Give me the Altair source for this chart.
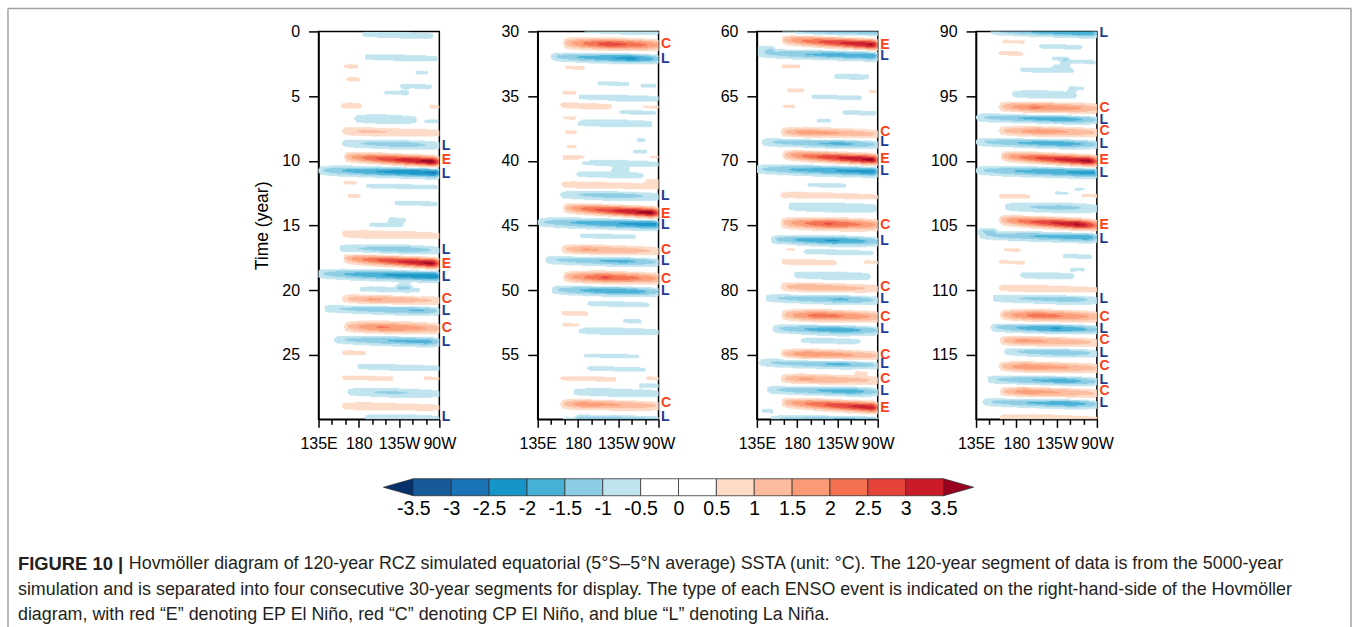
import numpy as np
import pandas as pd
import altair as alt

# ---------------------------------------------------------------------------
# Equatorial SSTA anomaly bands of the Hovmoller field.
# Each tuple: (year, peak SSTA in degC, west edge lon, east edge lon,
#              lon of the peak, half-thickness in years)
# Longitudes in degrees east: 180 = dateline, 225 = 135W, 270 = 90W.
# ---------------------------------------------------------------------------
BANDS_0_30 = [
    (0.30, -0.8, 186, 262, 232, 0.25), (2.05, -0.8, 188, 267, 230, 0.25),
    (2.70, 0.7, 165, 178, 170, 0.20), (3.20, -0.6, 245, 256, 250, 0.20),
    (3.70, 0.7, 168, 180, 173, 0.20), (4.25, -0.7, 228, 260, 245, 0.22),
    (4.75, -0.65, 210, 234, 222, 0.20), (5.75, 0.75, 162, 182, 170, 0.25),
    (5.85, 0.6, 260, 270, 270, 0.20), (6.80, -0.95, 177, 243, 205, 0.35),
    (6.95, -0.65, 255, 268, 262, 0.20), (7.75, 1.1, 163, 270, 185, 0.30),
    (8.75, -1.3, 163, 270, 225, 0.30), (10.10, 3.8, 165, 270, 262, 0.30),
    (10.95, -2.6, 136, 270, 265, 0.30), (11.70, 0.65, 165, 176, 170, 0.20),
    (12.00, -0.7, 190, 267, 230, 0.22), (12.70, 0.6, 169, 180, 174, 0.20),
    (13.30, -0.7, 221, 267, 245, 0.22), (14.55, -0.6, 215, 232, 224, 0.20),
    (15.00, -0.7, 193, 228, 210, 0.22), (15.70, 0.95, 163, 270, 190, 0.30),
    (16.90, -1.4, 160, 270, 230, 0.30), (17.95, 3.7, 164, 270, 262, 0.30),
    (18.95, -2.5, 135, 270, 266, 0.30), (19.75, -0.6, 225, 236, 230, 0.20),
    (20.00, -0.8, 182, 247, 215, 0.25), (20.75, 1.6, 163, 270, 193, 0.30),
    (21.60, -1.6, 143, 270, 250, 0.28), (22.90, 2.1, 165, 270, 205, 0.33),
    (24.00, -1.8, 154, 270, 255, 0.28), (24.85, 0.7, 163, 186, 172, 0.22),
    (26.00, -0.8, 180, 270, 230, 0.25), (26.80, 0.7, 163, 217, 185, 0.22),
    (26.85, 0.6, 254, 270, 268, 0.20), (27.95, -1.1, 169, 270, 215, 0.30),
    (29.00, 1.0, 163, 270, 190, 0.28), (29.95, -1.0, 188, 270, 240, 0.30),
]

BANDS_30_60 = [
    (31.00, 2.8, 165, 270, 215, 0.33), (32.10, -2.2, 151, 270, 240, 0.28),
    (32.80, 0.6, 167, 186, 175, 0.20), (34.05, -0.65, 203, 236, 220, 0.20),
    (34.20, -0.6, 251, 266, 258, 0.20), (34.75, 0.6, 164, 177, 170, 0.20),
    (35.15, -0.8, 182, 270, 225, 0.25), (35.75, 0.8, 162, 217, 185, 0.25),
    (35.85, 0.65, 254, 270, 265, 0.20), (36.25, -0.7, 228, 266, 245, 0.20),
    (36.70, 0.6, 165, 180, 172, 0.20), (37.10, -0.9, 180, 262, 215, 0.28),
    (37.80, 0.6, 167, 177, 172, 0.20), (38.40, -0.6, 247, 254, 250, 0.18),
    (38.90, 0.6, 169, 177, 173, 0.18), (39.30, -0.6, 243, 256, 250, 0.18),
    (39.75, 0.7, 164, 190, 175, 0.22), (39.75, 0.6, 262, 270, 268, 0.18),
    (40.20, -0.8, 184, 270, 230, 0.25), (40.70, -0.6, 221, 234, 228, 0.18),
    (41.10, -0.85, 180, 252, 215, 0.25), (41.60, 0.6, 258, 270, 268, 0.18),
    (41.90, 1.0, 163, 270, 185, 0.28), (42.70, -1.3, 162, 270, 220, 0.32),
    (44.05, 3.8, 165, 270, 262, 0.30), (44.95, -2.3, 136, 270, 266, 0.30),
    (45.85, -0.7, 184, 243, 210, 0.22), (46.90, 1.6, 163, 270, 188, 0.30),
    (47.80, -1.7, 145, 270, 230, 0.28), (49.05, 2.6, 165, 270, 210, 0.33),
    (50.10, -2.0, 152, 270, 225, 0.28), (51.10, -0.8, 192, 258, 225, 0.22),
    (51.80, 0.65, 163, 190, 172, 0.22), (52.40, -0.65, 232, 250, 240, 0.20),
    (52.70, 0.6, 164, 183, 172, 0.20), (53.20, -0.9, 182, 270, 220, 0.27),
    (55.10, -0.7, 188, 247, 215, 0.20), (56.10, -0.7, 192, 254, 220, 0.20),
    (56.85, 0.7, 162, 221, 185, 0.22), (56.85, 0.6, 258, 270, 268, 0.20),
    (57.35, -0.6, 250, 270, 262, 0.18), (57.95, -1.0, 176, 270, 215, 0.30),
    (58.85, 1.8, 162, 270, 185, 0.30), (59.95, -0.8, 180, 270, 230, 0.25),
]

BANDS_60_90 = [
    (60.10, -0.7, 164, 269, 230, 0.20), (61.05, 3.6, 164, 270, 264, 0.30),
    (61.30, -0.6, 139, 152, 145, 0.20), (61.90, -2.0, 137, 270, 264, 0.28),
    (62.70, 0.6, 164, 182, 172, 0.20), (63.50, -0.8, 223, 259, 240, 0.22),
    (64.55, 0.6, 170, 186, 178, 0.20), (64.65, 0.6, 262, 268, 266, 0.18),
    (65.10, -0.7, 197, 251, 225, 0.20), (65.80, 0.6, 165, 176, 170, 0.18),
    (66.30, -0.7, 232, 267, 250, 0.20), (66.90, -0.6, 203, 216, 210, 0.18),
    (67.85, 1.8, 163, 270, 190, 0.30), (68.70, -1.7, 142, 270, 230, 0.28),
    (69.95, 3.7, 165, 270, 264, 0.30), (70.85, -2.3, 135, 270, 265, 0.30),
    (71.90, -0.7, 193, 233, 212, 0.20), (72.70, 0.9, 163, 270, 185, 0.27),
    (73.60, -0.9, 172, 268, 225, 0.40), (74.90, 2.6, 163, 270, 215, 0.33),
    (76.20, -2.1, 152, 270, 220, 0.28), (76.85, 0.6, 168, 176, 172, 0.18),
    (77.10, -0.75, 189, 264, 225, 0.22), (77.85, 0.8, 164, 223, 185, 0.25),
    (77.85, 0.6, 256, 270, 266, 0.20), (78.90, -1.0, 178, 261, 215, 0.30),
    (79.80, 1.5, 163, 270, 190, 0.30), (80.75, -1.6, 146, 270, 230, 0.28),
    (82.00, 2.3, 164, 270, 205, 0.33), (83.10, -1.9, 154, 270, 225, 0.28),
    (83.95, -0.8, 186, 249, 215, 0.22), (85.00, 2.0, 163, 270, 192, 0.30),
    (85.75, -1.7, 139, 270, 230, 0.27), (86.35, 0.6, 246, 257, 252, 0.18),
    (86.90, 1.6, 163, 270, 186, 0.30), (87.85, -1.8, 148, 270, 240, 0.28),
    (89.10, 3.4, 164, 270, 264, 0.30), (89.35, -0.6, 142, 152, 147, 0.20),
]

BANDS_90_120 = [
    (90.15, -2.0, 152, 270, 262, 0.25), (90.80, 0.6, 166, 188, 176, 0.20),
    (91.20, -0.7, 207, 252, 235, 0.20), (91.70, 0.65, 162, 186, 172, 0.20),
    (92.10, -0.6, 221, 236, 228, 0.18), (92.35, -0.65, 232, 267, 250, 0.20),
    (92.70, -0.6, 224, 237, 230, 0.18), (93.00, -0.8, 186, 243, 215, 0.22),
    (94.40, -0.6, 240, 254, 247, 0.18), (94.90, -1.0, 177, 246, 210, 0.30),
    (95.90, 2.1, 162, 270, 200, 0.32), (96.80, -1.9, 136, 270, 230, 0.27),
    (97.75, 1.8, 162, 270, 205, 0.30), (98.70, -1.9, 136, 270, 230, 0.27),
    (100.05, 3.7, 164, 270, 262, 0.30), (100.95, -2.2, 136, 270, 266, 0.30),
    (102.20, -0.6, 247, 255, 251, 0.15), (102.50, -0.6, 225, 237, 230, 0.18),
    (102.75, 0.7, 162, 194, 175, 0.22), (102.70, 0.6, 254, 270, 266, 0.20),
    (103.65, -1.2, 169, 270, 230, 0.33), (104.95, 3.6, 162, 270, 250, 0.30),
    (105.40, -0.7, 140, 155, 148, 0.18), (105.95, -1.9, 140, 270, 260, 0.28),
    (106.90, 0.6, 168, 183, 175, 0.20), (107.40, -0.7, 233, 263, 248, 0.20),
    (107.85, 0.6, 162, 188, 174, 0.20), (108.40, -0.6, 242, 255, 248, 0.18),
    (108.90, -0.9, 186, 243, 215, 0.25), (109.90, 1.0, 162, 270, 190, 0.28),
    (110.75, -1.3, 155, 270, 240, 0.30), (112.00, 2.3, 163, 270, 205, 0.33),
    (113.00, -2.1, 153, 270, 225, 0.28), (113.95, 1.7, 163, 270, 185, 0.30),
    (114.85, -1.5, 168, 270, 230, 0.27), (115.95, 1.9, 162, 270, 190, 0.30),
    (117.05, -1.8, 149, 270, 235, 0.27), (117.90, 1.8, 163, 270, 190, 0.30),
    (118.80, -1.9, 144, 270, 240, 0.27), (119.95, 1.0, 163, 270, 210, 0.28),
]

# ENSO event classification marked on the right-hand side of each panel
EVENT_YEAR = [
    8.88, 9.97, 11.0, 16.87, 17.95, 19.0, 20.73, 21.66, 22.92, 24.03, 29.8,
    30.98, 32.1, 42.7, 44.1, 45.0, 46.87, 47.77, 49.13, 50.1, 58.7, 59.85,
    61.03, 61.88, 67.8, 68.58, 69.9, 70.82, 74.99, 76.22, 79.75, 80.68,
    82.1, 83.05, 85.06, 85.75, 86.9, 87.8, 89.1,
    90.13, 95.92, 96.82, 97.73, 98.68, 99.97, 100.95, 105.0, 106.04, 110.68,
    112.07, 113.0, 113.87, 114.85, 115.88, 116.96, 117.81, 118.71,
]
EVENT_TYPE = [
    "L", "E", "L", "L", "E", "L", "C", "L", "C", "L", "L",
    "C", "L", "L", "E", "L", "C", "L", "C", "L", "C", "L",
    "E", "L", "C", "L", "E", "L", "C", "L", "C", "L",
    "C", "L", "C", "L", "C", "L", "E",
    "L", "C", "L", "C", "L", "E", "L", "E", "L", "L",
    "C", "L", "C", "L", "C", "L", "C", "L",
]

SEGMENT_STARTS = [0, 30, 60, 90]
SEGMENT_BANDS = [BANDS_0_30, BANDS_30_60, BANDS_60_90, BANDS_90_120]

LON_TICKS = [135, 180, 225, 270]
LON_LABELS = ["135E", "180", "135W", "90W"]
LON_MINOR = [150, 165, 195, 210, 240, 255]

# Contour levels and fill colours (two extension colours at the ends)
CB_LEVELS = [-3.5, -3, -2.5, -2, -1.5, -1, -0.5, 0, 0.5, 1, 1.5, 2, 2.5, 3, 3.5]
CB_COLORS = [
    "#08306b", "#175a9a", "#1a73b5", "#1695c9", "#46b1d6", "#8bcde4",
    "#c0e4ee", "#ffffff", "#ffffff", "#fddbc7", "#fcbb9c", "#fb9b76",
    "#f4704f", "#e6433b", "#cb1a28", "#99001f",
]

CAPTION_BOLD = "FIGURE 10 |"
CAPTION_LINES = [
    "Hovmöller diagram of 120-year RCZ simulated equatorial (5°S–5°N average) SSTA (unit: °C). "
    "The 120-year segment of data is from the 5000-year",
    "simulation and is separated into four consecutive 30-year segments for display. "
    "The type of each ENSO event is indicated on the right-hand-side of the Hovmöller",
    "diagram, with red “E” denoting EP El Niño, red “C” denoting CP El Niño, and blue “L” denoting La Niña.",
]

# ---------------------------------------------------------------------------
# Layout (pixels)
# ---------------------------------------------------------------------------
PANEL_W = 121
PANEL_H = 388.5
PANEL_GAP = 98.5
CB_W = 660
CB_H = 17
ORIGIN_X, ORIGIN_Y = 318, 30          # top-left of the first panel
CB_X0, CB_Y0 = 318, 478               # top-left of the colour bar view
PAGE_W, PAGE_H = 1356, 627

FONT = "Liberation Sans"
RED_LABEL = "#fa4119"
BLUE_LABEL = "#1b3b95"

# ---------------------------------------------------------------------------
# Gridded field
# ---------------------------------------------------------------------------
LON_EDGES = np.linspace(135.0, 270.0, 91)
LON_MID = 0.5 * (LON_EDGES[:-1] + LON_EDGES[1:])
N_ROWS = 500
WIDTH_FACTOR = 1.3        # Gaussian width relative to the listed half-thickness
CORE_SHAPE = 0.5          # < 1 keeps the core of each band broad


def level_mid(i):
    if i == 0:
        return CB_LEVELS[0] - 0.25
    if i == len(CB_LEVELS):
        return CB_LEVELS[-1] + 0.25
    return 0.5 * (CB_LEVELS[i - 1] + CB_LEVELS[i])


def zonal_profile(peak, west, east, at):
    """Amplitude along longitude: strongest at `at`, fading to the band ends."""
    edge_w = 0.62
    edge_e = max(0.62, 0.45 * peak) if east >= 269 else 0.62
    amp = np.zeros_like(LON_MID)
    left = (LON_MID >= west) & (LON_MID <= at)
    if at > west:
        f = (LON_MID[left] - west) / (at - west)
        amp[left] = edge_w + (peak - edge_w) * f ** CORE_SHAPE
    else:
        amp[left] = peak
    right = (LON_MID > at) & (LON_MID <= east)
    if east > at:
        f = (east - LON_MID[right]) / (east - at)
        amp[right] = edge_e + (peak - edge_e) * f ** CORE_SHAPE
    tail_w = (LON_MID < west) & (LON_MID > west - 5)
    amp[tail_w] = edge_w * (1 - (west - LON_MID[tail_w]) / 5)
    tail_e = (LON_MID > east) & (LON_MID < east + 5)
    amp[tail_e] = edge_e * (1 - (LON_MID[tail_e] - east) / 5)
    return amp


ALL_BANDS = [b for seg in SEGMENT_BANDS for b in seg]


def segment_cells(t_start):
    t_edges = np.linspace(t_start, t_start + 30, N_ROWS + 1)
    t_mid = 0.5 * (t_edges[:-1] + t_edges[1:])
    field = np.zeros((N_ROWS, LON_MID.size))
    for year, ssta, west, east, at, spread in ALL_BANDS:
        if year < t_start - 2 or year > t_start + 32:
            continue
        amp = zonal_profile(abs(ssta), west, east, at)
        lag = (0.004 if abs(ssta) >= 3 else 0.0015) * (LON_MID - at)
        dt = (t_mid[:, None] - year - lag[None, :]) / (WIDTH_FACTOR * spread)
        field += np.sign(ssta) * amp[None, :] * np.exp(-dt ** 2)
    level = np.digitize(field, CB_LEVELS)
    rows = []
    n = LON_MID.size
    for i in range(N_ROWS):
        lv = level[i]
        j = 0
        while j < n:
            k = j
            while k + 1 < n and lv[k + 1] == lv[j]:
                k += 1
            if lv[j] not in (7, 8):
                rows.append({
                    "lon0": LON_EDGES[j], "lon1": LON_EDGES[k + 1],
                    "t0": t_edges[i], "t1": t_edges[i + 1],
                    "ssta": level_mid(int(lv[j])),
                })
            j = k + 1
    return pd.DataFrame(rows)


color_scale = alt.Scale(type="threshold", domain=CB_LEVELS, range=CB_COLORS)
x_scale = alt.Scale(domain=[135, 270], nice=False, zero=False)

label_expr = " : ".join(
    f"datum.value == {v} ? '{t}'" for v, t in zip(LON_TICKS, LON_LABELS)
) + " : ''"

events = pd.DataFrame({"year": EVENT_YEAR, "type": EVENT_TYPE})


def panel(idx):
    t0 = SEGMENT_STARTS[idx]
    cells = segment_cells(t0)
    y_scale = alt.Scale(domain=[t0, t0 + 30], reverse=True, nice=False, zero=False)
    y_axis = alt.Axis(
        values=list(range(t0, t0 + 30, 5)), title="Time (year)" if idx == 0 else None,
        tickSize=10, labelPadding=9, labelFlush=False, labelOverlap=False,
        titlePadding=10, grid=False,
    )
    major = alt.Axis(
        orient="bottom", values=LON_TICKS, labelExpr=label_expr, tickSize=8,
        labelPadding=8, labelFlush=False, labelOverlap=False, title=None, grid=False,
    )
    minor = alt.Axis(
        orient="bottom", values=LON_MINOR, labels=False, tickSize=5,
        domain=False, title=None, grid=False,
    )
    field = alt.Chart(cells).mark_rect(clip=True, strokeWidth=0.5).encode(
        x=alt.X("lon0:Q", scale=x_scale, axis=major),
        x2="lon1:Q",
        y=alt.Y("t0:Q", scale=y_scale, axis=y_axis),
        y2="t1:Q",
        color=alt.Color("ssta:Q", scale=color_scale, legend=None),
        stroke=alt.Stroke("ssta:Q", scale=color_scale, legend=None),
    )
    minor_ticks = alt.Chart(pd.DataFrame({"lon": LON_MINOR})).mark_point(opacity=0).encode(
        x=alt.X("lon:Q", scale=x_scale, axis=minor),
    )
    seg_events = events[(events.year >= t0) & (events.year < t0 + 30)]
    label_style = dict(align="left", baseline="middle", font=FONT, fontWeight="bold", fontSize=14)
    warm = alt.Chart(seg_events[seg_events.type != "L"]).mark_text(
        color=RED_LABEL, **label_style,
    ).encode(x=alt.value(PANEL_W + 2.5), y=alt.Y("year:Q", scale=y_scale, axis=y_axis), text="type:N")
    cold = alt.Chart(seg_events[seg_events.type == "L"]).mark_text(
        color=BLUE_LABEL, **label_style,
    ).encode(x=alt.value(PANEL_W + 2.5), y=alt.Y("year:Q", scale=y_scale, axis=y_axis), text="type:N")
    return alt.layer(field, minor_ticks, warm, cold).resolve_axis(x="independent").properties(
        width=PANEL_W, height=PANEL_H,
        view=alt.ViewBackground(stroke="black", strokeWidth=1.5, fill="white"),
    )


row = alt.hconcat(*[panel(i) for i in range(4)], spacing=PANEL_GAP, bounds="flush")

# ---------------------------------------------------------------------------
# Colour bar
# ---------------------------------------------------------------------------
PX_PER_UNIT = 75.86
CB_XMIN = CB_LEVELS[0] - (413 - CB_X0) / PX_PER_UNIT
CB_XMAX = CB_XMIN + CB_W / PX_PER_UNIT
TRI_LEN = 0.395

boxes = pd.DataFrame({
    "x0": CB_LEVELS[:-1], "x1": CB_LEVELS[1:], "clr": CB_COLORS[1:-1],
    "b0": 0.0, "b1": 1.0,
})
tris = pd.DataFrame({
    "side": ["lo", "lo", "hi", "hi"],
    "x": [CB_LEVELS[0] - TRI_LEN, CB_LEVELS[0], CB_LEVELS[-1], CB_LEVELS[-1] + TRI_LEN],
    "lo": [0.5, 0.0, 0.0, 0.5],
    "hi": [0.5, 1.0, 1.0, 0.5],
    "clr": [CB_COLORS[0], CB_COLORS[0], CB_COLORS[-1], CB_COLORS[-1]],
})
cb_x = alt.Scale(domain=[CB_XMIN, CB_XMAX], nice=False, zero=False)
cb_y = alt.Scale(domain=[0, 1], nice=False, zero=False)
cb_axis = alt.Axis(
    orient="bottom", values=CB_LEVELS, labelExpr="'' + datum.value", domain=False,
    ticks=False, labelPadding=4, labelFontSize=19.5, labelFlush=False,
    labelOverlap=False, title=None, grid=False,
)
cb_boxes = alt.Chart(boxes).mark_rect(stroke="#333333", strokeWidth=0.8).encode(
    x=alt.X("x0:Q", scale=cb_x, axis=cb_axis), x2="x1:Q",
    y=alt.Y("b0:Q", scale=cb_y, axis=None), y2="b1:Q",
    fill=alt.Fill("clr:N", scale=None),
)
cb_tris = alt.Chart(tris).mark_area(stroke="#333333", strokeWidth=0.8).encode(
    x=alt.X("x:Q", scale=cb_x, axis=cb_axis),
    y=alt.Y("lo:Q", scale=cb_y, axis=None), y2="hi:Q",
    fill=alt.Fill("clr:N", scale=None), detail="side:N",
)

# ---------------------------------------------------------------------------
# Caption and page frame, placed relative to the colour bar view
# ---------------------------------------------------------------------------
one = pd.DataFrame({"k": [0]})
ox, oy = -CB_X0, -CB_Y0
canvas = alt.Chart(one).mark_rect(opacity=0).encode(
    x=alt.value(ox), x2=alt.value(ox + PAGE_W), y=alt.value(oy), y2=alt.value(oy + PAGE_H),
)
frame_style = dict(color="#a3a3a3", strokeWidth=1.5)
frame_top = alt.Chart(one).mark_rule(**frame_style).encode(
    x=alt.value(ox + 7), x2=alt.value(ox + 1352), y=alt.value(oy + 7), y2=alt.value(oy + 7),
)
frame_left = alt.Chart(one).mark_rule(**frame_style).encode(
    x=alt.value(ox + 7), x2=alt.value(ox + 7), y=alt.value(oy + 7), y2=alt.value(oy + PAGE_H),
)
frame_right = alt.Chart(one).mark_rule(**frame_style).encode(
    x=alt.value(ox + 1352), x2=alt.value(ox + 1352), y=alt.value(oy + 7), y2=alt.value(oy + PAGE_H),
)
CAP_FONT_SIZE = 17.9
CAP_LINE_Y = [563, 589, 614]
cap_bold = alt.Chart(one).mark_text(
    align="left", baseline="middle", font=FONT, fontSize=18.4,
    fontWeight="bold", color="#231f20", text=CAPTION_BOLD,
).encode(x=alt.value(ox + 17), y=alt.value(oy + CAP_LINE_Y[0]))
cap_first = alt.Chart(one).mark_text(
    align="left", baseline="middle", font=FONT, fontSize=CAP_FONT_SIZE,
    color="#231f20", text=CAPTION_LINES[0],
).encode(x=alt.value(ox + 128), y=alt.value(oy + CAP_LINE_Y[0]))
cap_rest = [
    alt.Chart(one).mark_text(
        align="left", baseline="middle", font=FONT, fontSize=CAP_FONT_SIZE,
        color="#231f20", text=line,
    ).encode(x=alt.value(ox + 17), y=alt.value(oy + ly))
    for line, ly in zip(CAPTION_LINES[1:], CAP_LINE_Y[1:])
]

bottom = alt.layer(
    canvas, frame_top, frame_left, frame_right, cb_tris, cb_boxes,
    cap_bold, cap_first, *cap_rest,
).properties(width=CB_W, height=CB_H, view=alt.ViewBackground(stroke="transparent"))

# the panel row takes no height in a flush layout, so the gap is the bar's offset
chart = alt.vconcat(row, bottom, spacing=CB_Y0 - ORIGIN_Y, bounds="flush").properties(
    padding=0, background="white",
).configure_axis(
    labelFont=FONT, labelFontSize=16, labelColor="black", titleFont=FONT,
    titleFontSize=17.5, titleFontWeight="normal", titleColor="black",
    domainColor="black", domainWidth=1.5, tickColor="black", tickWidth=1.5,
).configure_view(stroke="transparent")

chart.save("out.html", embed_options={"renderer": "svg", "actions": False})
